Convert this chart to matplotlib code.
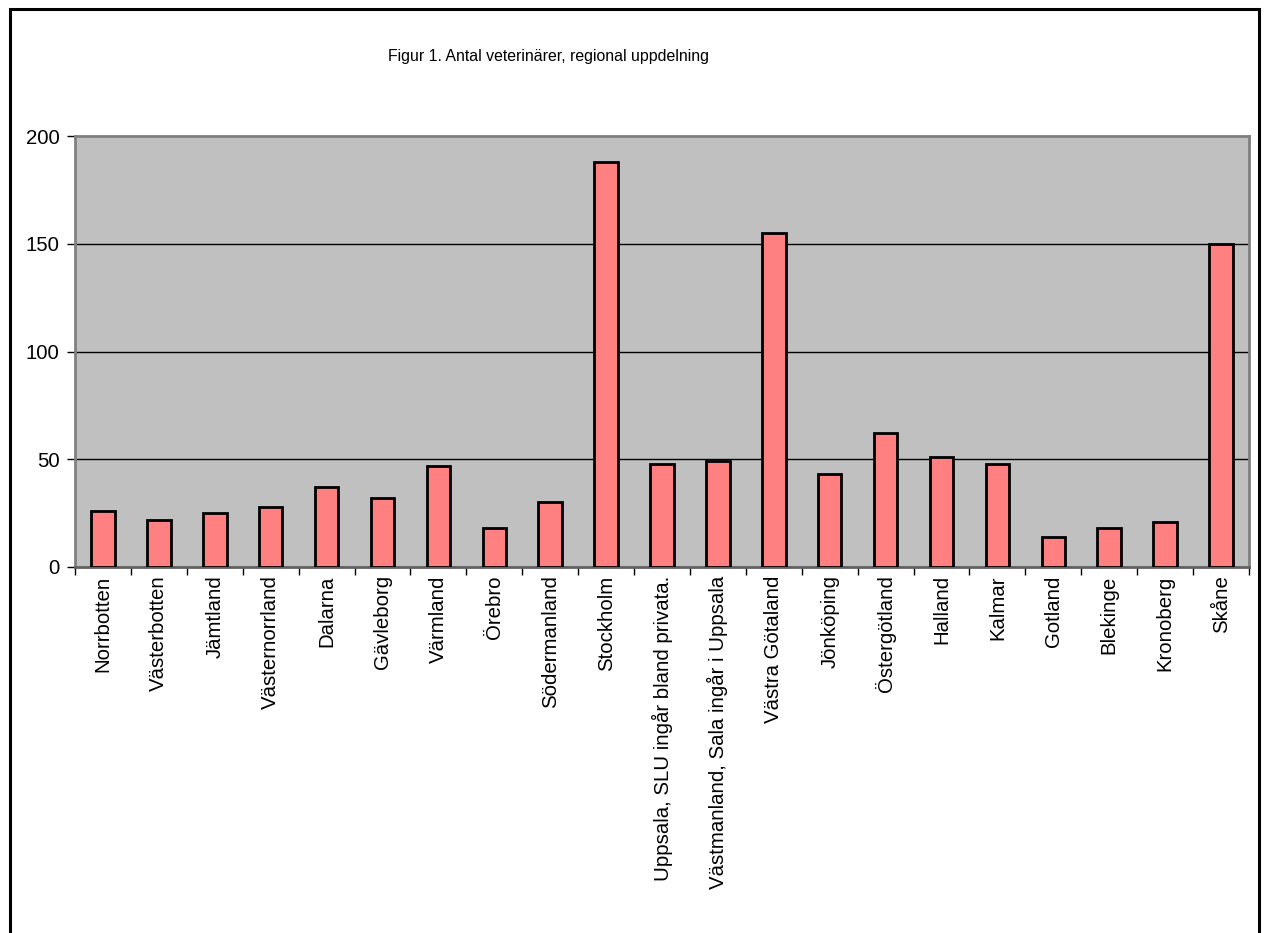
import matplotlib
matplotlib.use("Agg")
import matplotlib.pyplot as plt
from matplotlib.patches import Rectangle
import numpy as np

plt.rcParams['font.family'] = ['Liberation Sans', 'DejaVu Sans']

categories = ["Norrbotten", "Västerbotten", "Jämtland", "Västernorrland", "Dalarna",
              "Gävleborg", "Värmland", "Örebro", "Södermanland", "Stockholm",
              "Uppsala, SLU ingår bland privata.", "Västmanland, Sala ingår i Uppsala",
              "Västra Götaland", "Jönköping", "Östergötland", "Halland", "Kalmar",
              "Gotland", "Blekinge", "Kronoberg", "Skåne"]
values = [26, 22, 25, 28, 37, 32, 47, 18, 30, 188, 48, 49, 155, 43, 62, 51, 48, 14, 18, 21, 150]
yticks = [0, 50, 100, 150, 200]
title = "Figur 1. Antal veterinärer, regional uppdelning"

W, H = 1264, 933
fig = plt.figure(figsize=(W / 100, H / 100), dpi=100)

# outer chart border
fig.patches.append(Rectangle((9.5 / W, -0.05), (1259 - 9.5) / W, 1.05 - 9.5 / H,
                             transform=fig.transFigure, fill=False,
                             edgecolor='black', linewidth=2.2))

left, right, top, bottom = 75, 1249, 136, 567
ax = fig.add_axes([left / W, 1 - bottom / H, (right - left) / W, (bottom - top) / H])
ax.set_facecolor('#C0C0C0')

x = np.arange(len(categories))
ax.bar(x, values, width=0.42, color='#FF8080', edgecolor='black', linewidth=2.0, zorder=3)

ax.set_xlim(-0.5, len(categories) - 0.5)
ax.set_ylim(0, 200)
ax.set_yticks(yticks)
ax.set_yticklabels([str(t) for t in yticks], fontsize=14.7)
for t in yticks[1:-1]:
    ax.axhline(t, color='black', linewidth=1.0, zorder=2)

ax.set_xticks(x)
ax.set_xticklabels(categories, rotation=90, fontsize=14.7, va='top')
ax.tick_params(axis='x', length=0, pad=6)
ax.set_xticks(np.arange(-0.5, len(categories) + 0.5, 1), minor=True)
ax.tick_params(axis='x', which='minor', length=6, width=1, color='black', direction='out')
ax.tick_params(axis='y', length=6, width=1, color='black', direction='out', pad=5)

for s in ['top', 'right']:
    ax.spines[s].set_color('#808080')
    ax.spines[s].set_linewidth(2)
ax.spines['left'].set_color('#808080')
ax.spines['left'].set_linewidth(2)
ax.spines['bottom'].set_color('#606060')
ax.spines['bottom'].set_linewidth(2)

fig.text(549 / W, 1 - 57 / H, title, ha='center', va='center', fontsize=11.4)

fig.savefig("out.png", dpi=100)
